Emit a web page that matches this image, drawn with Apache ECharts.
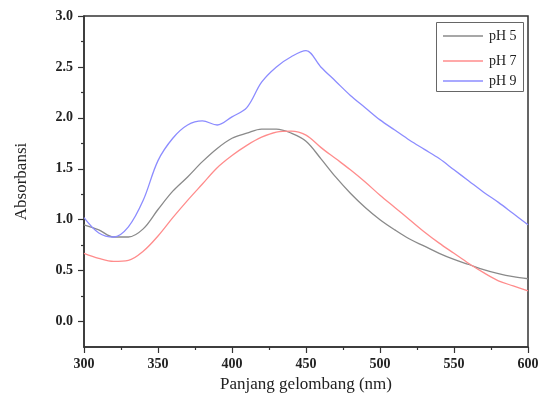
<!DOCTYPE html>
<html>
<head>
<meta charset="utf-8">
<script src="https://cdn.jsdelivr.net/npm/echarts@6/dist/echarts.min.js"></script>
<style>html,body{margin:0;padding:0;background:#fff}#c{width:544px;height:406px}</style>
</head>
<body>
<div id="c"></div>
<script>
var wavelengths = [300,310,320,330,340,350,360,370,380,390,400,410,420,430,440,450,460,470,480,490,500,510,520,530,540,550,560,570,580,590,600];
var pH5 = [0.95,0.90,0.83,0.83,0.91,1.10,1.28,1.42,1.57,1.70,1.80,1.85,1.89,1.89,1.85,1.77,1.60,1.42,1.26,1.12,1.00,0.90,0.81,0.74,0.67,0.61,0.56,0.51,0.47,0.44,0.42];
var pH7 = [0.67,0.62,0.59,0.60,0.69,0.84,1.02,1.19,1.35,1.51,1.63,1.73,1.81,1.86,1.87,1.83,1.71,1.60,1.49,1.37,1.24,1.12,1.00,0.88,0.77,0.67,0.57,0.48,0.40,0.35,0.30];
var pH9 = [1.02,0.87,0.83,0.93,1.19,1.58,1.80,1.93,1.97,1.93,2.01,2.10,2.35,2.50,2.60,2.66,2.50,2.36,2.22,2.10,1.98,1.88,1.78,1.69,1.60,1.49,1.38,1.27,1.17,1.06,0.95];
var seriesNames = ['pH 5','pH 7','pH 9'];
var yMajor = [0,0.5,1.0,1.5,2.0,2.5,3.0];
var yMinor = [0.25,0.75,1.25,1.75,2.25,2.75];

function pairs(v){ return wavelengths.map(function(x,i){return [x,v[i]];}); }

var chart = echarts.init(document.getElementById('c'), null, {renderer:'canvas'});
var serif = '"Liberation Serif","Times New Roman",serif';
var axisCol = '#333';
var lab = {fontFamily:serif, fontWeight:'bold', fontSize:14, color:'#222'};
var colors = ['#8a8a8a','#ff8c8c','#8c8cff'];
var legendTops = [29, 54, 74];

chart.setOption({
  animation:false,
  grid:{left:84, right:16, top:16, bottom:59, show:true, borderColor:axisCol, borderWidth:1.5},
  xAxis:{type:'value', min:300, max:600, interval:50,
    name:'Panjang gelombang (nm)', nameLocation:'middle', nameGap:28,
    nameTextStyle:{fontFamily:serif, fontSize:17, color:'#222'},
    axisLine:{show:true, onZero:false, lineStyle:{color:axisCol, width:1.5}},
    axisTick:{show:true, inside:false, length:6, lineStyle:{color:axisCol, width:1.2}},
    minorTick:{show:true, splitNumber:2, length:3, lineStyle:{color:axisCol, width:1.2}},
    splitLine:{show:false},
    axisLabel:Object.assign({margin:10}, lab)
  },
  yAxis:[{type:'value', min:-0.25, max:3.0, interval:0.25,
    name:'Absorbansi', nameLocation:'middle', nameGap:54, nameRotate:90,
    nameTextStyle:{fontFamily:serif, fontSize:17, color:'#222'},
    axisLine:{show:true, onZero:false, lineStyle:{color:axisCol, width:1.5}},
    axisTick:{show:true, inside:false, length:6, customValues:yMajor, lineStyle:{color:axisCol, width:1.2}},
    splitLine:{show:false},
    axisLabel:Object.assign({margin:11, customValues:yMajor, formatter:function(v){return v.toFixed(1);}}, lab)
  },{type:'value', min:-0.25, max:3.0, interval:0.25, position:'left',
    axisLine:{show:false},
    axisTick:{show:true, inside:false, length:3, customValues:yMinor, lineStyle:{color:axisCol, width:1.2}},
    splitLine:{show:false},
    axisLabel:{show:false}
  }],
  legend:seriesNames.map(function(n,i){
    return {data:[{name:n, icon:'rect'}], left:443, top:legendTops[i], orient:'vertical', itemWidth:40, itemHeight:1.5, itemGap:0, padding:0,
      textStyle:{fontFamily:serif, fontSize:14, color:'#222', padding:[0,0,0,1]}};
  }),
  graphic:[{type:'rect', shape:{x:436.5, y:22.5, width:87, height:69}, style:{fill:'none', stroke:'#666', lineWidth:1}, z:100}],
  series:[pH5,pH7,pH9].map(function(v,i){
    return {name:seriesNames[i], type:'line', data:pairs(v), showSymbol:false, symbol:'none',
      smooth:0.35, yAxisIndex:0,
      lineStyle:{color:colors[i], width:1.3}, itemStyle:{color:colors[i]}};
  })
});
</script>
</body>
</html>
